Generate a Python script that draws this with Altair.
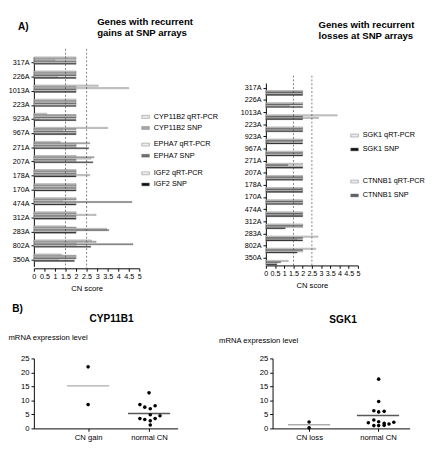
import altair as alt
import pandas as pd

FONT = "Liberation Sans"

# ---------------- data: panel A ----------------
samples = ["317A", "226A", "1013A", "223A", "923A", "967A", "271A", "207A",
           "178A", "170A", "474A", "312A", "283A", "802A", "350A"]

cyp11b2_qrt = [2.0, 2.0, 3.05, 2.0, 0.6, 3.5, 1.25, 2.0, 2.0, 2.0, 2.0, 2.0, 1.45, 2.72, 1.3]
cyp11b2_snp = [2.0, 2.0, 2.0, 2.0, 2.0, 2.0, 2.65, 2.85, 2.0, 2.0, 2.0, 2.0, 2.0, 2.95, 2.0]
epha7_qrt = [1.0, 2.0, 4.5, 2.0, 2.0, 1.35, 2.0, 2.7, 2.0, 2.0, 1.35, 2.95, 3.45, 2.0, 2.0]
epha7_snp = [2.0, 2.0, 2.0, 2.0, 2.0, 2.0, 2.0, 2.0, 2.0, 2.0, 4.65, 2.0, 3.55, 4.7, 2.0]
igf2_qrt = [2.0, 1.1, 2.0, 2.0, 0.25, 2.0, 2.0, 2.0, 2.65, 2.0, 2.0, 2.0, 2.0, 2.0, 1.15]
igf2_snp = [2.0, 2.0, 2.0, 2.0, 2.0, 2.0, 2.6, 2.8, 2.0, 2.0, 2.0, 2.0, 2.0, 2.7, 1.92]

ctnnb1_qrt = [2.0, 2.0, 3.87, 2.0, 2.0, 2.0, 2.0, 2.0, 2.0, 2.0, 2.0, 2.0, 2.83, 2.71, 1.22]
ctnnb1_snp = [2.0, 2.0, 2.0, 2.0, 2.0, 2.0, 1.2, 2.0, 2.0, 2.0, 2.0, 2.0, 2.0, 2.0, 0.8]
sgk1_qrt = [2.0, 1.26, 2.86, 2.0, 0.15, 2.0, 2.0, 2.0, 2.0, 2.0, 2.0, 2.0, 1.7, 2.0, 0.6]
sgk1_snp = [2.0, 2.0, 2.0, 2.0, 2.0, 2.0, 2.0, 2.0, 2.0, 2.0, 2.0, 1.05, 2.0, 1.7, 0.6]

thresholds = [1.5, 2.5]
cn_ticks = [0, 0.5, 1, 1.5, 2, 2.5, 3, 3.5, 4, 4.5, 5]

# ---------------- data: panel B ----------------
cyp11b1_pos = [1.0, 1.0, 2.0, 1.85, 1.93, 2.02, 2.1, 2.02, 2.18, 1.85, 1.93, 2.02, 2.1, 2.02]
cyp11b1_expr = [22.0, 8.5, 12.7, 8.5, 7.6, 7.0, 8.1, 4.9, 4.5, 3.5, 3.2, 2.7, 3.5, 1.2]
cyp11b1_means = [15.2, 5.3]
cyp11b1_cats = ["CN gain", "normal CN"]

sgk1_pos = [1.0, 1.0, 2.01, 2.01, 1.94, 2.01, 2.09, 1.94, 2.01, 1.86, 2.23, 2.16, 2.09, 1.94, 2.01, 2.09]
sgk1_expr = [2.3, 0.2, 17.6, 9.6, 6.3, 5.9, 6.1, 3.0, 2.4, 2.0, 2.2, 1.6, 1.8, 1.0, 1.0, 1.1]
sgk1_means = [1.3, 4.6]
sgk1_cats = ["CN loss", "normal CN"]
expr_ticks = [0, 5, 10, 15, 20, 25]

# ---------------- styles ----------------
WHITE = "#ececec"
OUTLINE = "#7a7a7a"
SYM = "M-1,-0.38H1V0.38H-1Z"


def long_df(gene, q, s):
    rows = []
    for smp, v in zip(samples, q):
        rows.append({"sample": smp, "series": f"{gene} qRT-PCR", "value": v})
    for smp, v in zip(samples, s):
        rows.append({"sample": smp, "series": f"{gene} SNP", "value": v})
    return pd.DataFrame(rows)


def title_params(text, dx, offset, size=10, anchor="start"):
    return alt.TitleParams(text, fontSize=size, fontWeight="bold", font=FONT,
                           anchor=anchor, frame="group", dx=dx, offset=offset,
                           lineHeight=11, color="#000")


def bar_panel(genes, order, width, height, yrange, yaxis_extra):
    xsc = alt.Scale(domain=[0, 5], nice=False, zero=True)
    xax = alt.Axis(values=cn_ticks, format="~g", title="CN score", titleFontSize=8,
                   titleFontWeight="normal", titlePadding=5, labelFontSize=7.5,
                   tickSize=3, labelPadding=2, labelOverlap=False, labelFlush=False, grid=False)
    ysc = alt.Scale(range=yrange, paddingInner=0.12, paddingOuter=0)
    yax = alt.Axis(labelFontSize=7.5, tickSize=3, labelPadding=2, grid=False, **yaxis_extra)
    layers = []
    for gene, q, s, fill, lx, ly, rp in genes:
        df = long_df(gene, q, s)
        layers.append(
            alt.Chart(df).mark_bar(stroke=OUTLINE, strokeWidth=0.5).encode(
                x=alt.X("value:Q", scale=xsc, axis=xax),
                y=alt.Y("sample:N", sort=samples, scale=ysc, axis=yax),
                yOffset=alt.YOffset("series:N", sort=order,
                                    scale=alt.Scale(domain=order, paddingInner=0.1)),
                color=alt.Color("series:N",
                                scale=alt.Scale(domain=[f"{gene} qRT-PCR", f"{gene} SNP"],
                                                range=[WHITE, fill]),
                                legend=alt.Legend(orient="none", legendX=lx, legendY=ly,
                                                  direction="vertical", title=None,
                                                  symbolType=SYM, symbolSize=64,
                                                  symbolStrokeColor=OUTLINE,
                                                  symbolStrokeWidth=0.5,
                                                  labelFontSize=7.6, labelFont=FONT,
                                                  rowPadding=rp, padding=0, labelOffset=4,
                                                  labelLimit=200)),
            )
        )
    rules = alt.Chart(pd.DataFrame({"t": thresholds})).mark_rule(
        strokeDash=[2, 2], color="#444", strokeWidth=0.7
    ).encode(x=alt.X("t:Q", scale=xsc, axis=xax))
    return alt.layer(*layers, rules).resolve_scale(color="independent").properties(
        width=width, height=height)


def scatter_panel(pos, expr, means, cats, mean_colors, width, dom, title, title_dx,
                  title_offset, ytx, yty, xaxis_extra):
    df = pd.DataFrame({"pos": pos, "expr": expr})
    mdf = pd.DataFrame({"group": [1, 2], "mean": means})
    xsc = alt.Scale(domain=dom, nice=False, zero=False)
    label_expr = f"datum.value == 1 ? '{cats[0]}' : '{cats[1]}'"
    xax = alt.Axis(values=[1, 2], labelExpr=label_expr, grid=False, tickSize=3,
                   labelFontSize=8, labelPadding=3, **xaxis_extra)
    ysc = alt.Scale(domain=[0, 25], nice=False)
    yax = alt.Axis(values=expr_ticks, grid=False, tickSize=3, labelFontSize=8, labelPadding=2,
                   title="mRNA expression level", titleAngle=0, titleAlign="left",
                   titleBaseline="middle", titleX=ytx, titleY=yty, titleFontSize=8,
                   titleFontWeight="normal")
    pts = alt.Chart(df).mark_circle(size=14, color="#000", opacity=1).encode(
        x=alt.X("pos:Q", scale=xsc, axis=xax),
        y=alt.Y("expr:Q", scale=ysc, axis=yax),
    )
    mtick = alt.Chart(mdf).mark_tick(orient="horizontal", size=44, thickness=1.5).encode(
        x=alt.X("group:Q", scale=xsc, axis=xax),
        y=alt.Y("mean:Q", scale=ysc, axis=yax),
        color=alt.Color("group:N", scale=alt.Scale(domain=[1, 2], range=mean_colors), legend=None),
    )
    return alt.layer(pts, mtick).properties(
        width=width, height=73,
        title=title_params(title, title_dx, title_offset, size=10.5, anchor="middle"),
    )


left_order = ["CYP11B2 qRT-PCR", "CYP11B2 SNP", "EPHA7 qRT-PCR", "EPHA7 SNP",
              "IGF2 qRT-PCR", "IGF2 SNP"]
right_order = ["CTNNB1 qRT-PCR", "CTNNB1 SNP", "SGK1 qRT-PCR", "SGK1 SNP"]

barL = bar_panel(
    [("CYP11B2", cyp11b2_qrt, cyp11b2_snp, "#a8a8a8", 112, 66.5, 2.6),
     ("EPHA7", epha7_qrt, epha7_snp, "#6b6b6b", 112, 95.4, 2.6),
     ("IGF2", igf2_qrt, igf2_snp, "#111111", 112, 125.4, 2.6)],
    left_order, 110, 229, [8.5, 227],
    dict(title="A)", titleAngle=0, titleX=-17, titleY=-23, titleAlign="left",
         titleBaseline="middle", titleFontSize=10.5, titleFontWeight="bold"),
).properties(title=title_params(["Genes with recurrent", "gains at SNP arrays"], 66, -16.2))

barR = bar_panel(
    [("SGK1", sgk1_qrt, sgk1_snp, "#111111", 88, 58, 5.5),
     ("CTNNB1", ctnnb1_qrt, ctnnb1_snp, "#5e5e5e", 88, 106, 5.5)],
    right_order, 96, 198, [7.7, 196],
    dict(title=None),
)

# invisible block that lowers the right-hand bar panel under its title
spacer = alt.Chart(pd.DataFrame({"s": [0]})).mark_point(opacity=0).encode(
    x=alt.X("s:Q", axis=None), y=alt.Y("s:Q", axis=None)
).properties(width=96, height=27)

rightCol = alt.vconcat(
    spacer, barR, spacing=0,
    title=title_params(["Genes with recurrent", "losses at SNP arrays"], 55, 8.4),
)

scL = scatter_panel(cyp11b1_pos, cyp11b1_expr, cyp11b1_means, cyp11b1_cats,
                    ["#8a8a8a", "#111111"], 150, [0.11, 2.47], "CYP11B1", 6, -20.5,
                    -27, -22,
                    dict(title="B)", titleX=-23, titleY=-124.5, titleAlign="left",
                         titleBaseline="middle", titleFontSize=10.5, titleFontWeight="bold"))
scR = scatter_panel(sgk1_pos, sgk1_expr, sgk1_means, sgk1_cats,
                    ["#8a8a8a", "#8a8a8a"], 143, [0.47, 2.46], "SGK1", 2, 11.5,
                    -56.3, -19, dict(title=None))

rowA = alt.hconcat(barL, rightCol, spacing=22)
rowB = alt.hconcat(scL, scR, spacing=42)

chart = alt.vconcat(rowA, rowB, spacing=11).properties(
    padding={"left": 0, "top": 0, "right": 0, "bottom": 0}
).configure(font=FONT).configure_view(stroke=None).configure_axis(
    domainColor="#000", tickColor="#000", labelColor="#000", titleColor="#000",
    labelFont=FONT, titleFont=FONT, domainWidth=1, tickWidth=1,
).configure_legend(labelColor="#000")

chart.save("out.html", embed_options={"renderer": "svg", "actions": False})
